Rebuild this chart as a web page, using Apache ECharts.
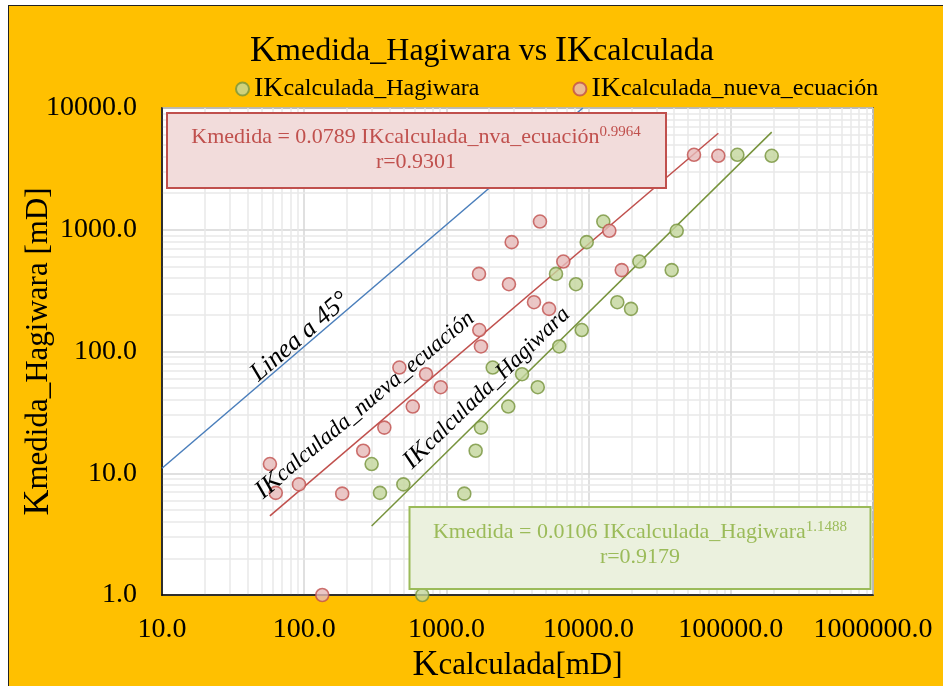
<!DOCTYPE html>
<html><head><meta charset="utf-8">
<script src="https://cdn.jsdelivr.net/npm/echarts@6/dist/echarts.min.js"></script>
<style>
html,body{margin:0;padding:0;background:#fff;width:943px;height:686px;overflow:hidden}
#frame{position:absolute;left:8px;top:5px;width:935px;height:681px;background:#FFC000;border-left:1.5px solid #222;border-top:1.5px solid #222;box-sizing:border-box}
#chart{position:absolute;left:0;top:0;width:943px;height:686px}
</style></head><body>
<div id="frame"></div><div id="chart"></div>
<script>
// Measured permeability (y) shared by both series
const kMedida = [4125, 4048, 1168, 980, 791, 548, 466, 434, 357, 254, 224, 150, 110, 73.8, 65.1, 50.9, 35.3, 23.7, 15.3, 11.9, 8.1, 6.9, 6.8, 1.0];
// Calculated permeability, new equation (x, red)
const kNuevaEcuacion = [55100, 81700, 4550, 13990, 2877, 6640, 17100, 1695, 2754, 4130, 5270, 1703, 1750, 467, 719, 912, 580, 366, 260, 57.4, 91.9, 63.1, 185, 134];
// Calculated permeability, Hagiwara (x, green)
const kHagiwara = [111200, 194000, 12690, 41660, 9700, 22750, 38400, 5900, 8150, 15920, 19870, 8950, 6220, 2117, 3404, 4390, 2723, 1750, 1606, 298, 498, 341, 1336, 677];
// Trend line end points (x, y)
const trendNueva = [[57.4, 4.47], [81700, 6200]];
const trendHagiwara = [[298, 3.69], [194000, 6340]];
const linea45 = [[10, 11], [9100, 10000]];
// Axis ranges
const xRange = [10, 1000000];
const yRange = [1, 10000];

const SERIF = "'Liberation Serif','Times New Roman',serif";
const pairs = (xs, ys) => xs.map((x, i) => [x, ys[i]]);

// minor log grid (2..9 per decade)
function minorVals(lo, hi) {
  const out = [];
  for (let d = lo; d < hi; d *= 10) for (let m = 2; m <= 9; m++) out.push(d * m);
  return out;
}
const minorLines = minorVals(xRange[0], xRange[1]).map(v => ({ xAxis: v }))
  .concat(minorVals(yRange[0], yRange[1]).map(v => ({ yAxis: v })));

const chart = echarts.init(document.getElementById('chart'), null, { renderer: 'canvas' });
const fmt = v => Number(v).toFixed(1);

chart.setOption({
  backgroundColor: 'transparent',
  animation: false,
  grid: {
    left: 162, top: 108, right: 70, bottom: 91,
    show: true, backgroundColor: '#fff', borderColor: '#404040', borderWidth: 1.5,
    outerBoundsMode: 'none'
  },
  legend: {
    data: ['IKcalculada_Hagiwara', 'IKcalculada_nueva_ecuación'],
    left: 230, top: 70, itemWidth: 13, itemHeight: 13, itemGap: 93,
    icon: 'circle',
    formatter: n => '{b|IK}{a|' + n.slice(2) + '}',
    textStyle: {
      rich: {
        b: { fontSize: 28, fontFamily: SERIF, color: '#000' },
        a: { fontSize: 24, fontFamily: SERIF, color: '#000' }
      }
    }
  },
  xAxis: {
    type: 'log', logBase: 10, min: xRange[0], max: xRange[1],
    axisLine: { show: true, lineStyle: { color: '#000', width: 1.5 } },
    axisTick: { show: false },
    axisLabel: { formatter: fmt, fontSize: 28, fontFamily: SERIF, color: '#000', margin: 21, showMinLabel: true, showMaxLabel: true },
    splitLine: { show: true, lineStyle: { color: '#d6d6d6', width: 1.5 } },
    name: '{k|K}{r|calculada[mD]}', nameLocation: 'middle', nameGap: 53, nameMoveOverlap: false,
    nameTextStyle: { rich: { k: { fontSize: 36, fontFamily: SERIF, color: '#000' }, r: { fontSize: 31, fontFamily: SERIF, color: '#000' } } }
  },
  yAxis: {
    type: 'log', logBase: 10, min: yRange[0], max: yRange[1],
    axisLine: { show: true, lineStyle: { color: '#000', width: 1.5 } },
    axisTick: { show: false },
    axisLabel: { formatter: fmt, fontSize: 28, fontFamily: SERIF, color: '#000', margin: 25, showMinLabel: true, showMaxLabel: true },
    splitLine: { show: true, lineStyle: { color: '#d6d6d6', width: 1.5 } },
    name: '{k|K}{r|medida_Hagiwara [mD]}', nameLocation: 'middle', nameGap: 105, nameRotate: 90, nameMoveOverlap: false,
    nameTextStyle: { rich: { k: { fontSize: 36, fontFamily: SERIF, color: '#000' }, r: { fontSize: 31, fontFamily: SERIF, color: '#000' } } }
  },
  series: [
    {
      name: 'minorGrid', type: 'line', data: [], z: 0, silent: true,
      markLine: {
        z: 0, silent: true, symbol: ['none', 'none'], label: { show: false },
        lineStyle: { type: 'solid', color: '#e8e8e8', width: 1.5 },
        emphasis: { disabled: true },
        data: minorLines
      }
    },
    {
      name: 'Linea a 45°', type: 'line', data: linea45, showSymbol: false, z: 6, silent: true,
      lineStyle: { color: '#4a7ebb', width: 1.5 }
    },
    {
      name: 'trendNueva', type: 'line', data: trendNueva, showSymbol: false, z: 6, silent: true,
      lineStyle: { color: '#c0504d', width: 1.5 }
    },
    {
      name: 'trendHagiwara', type: 'line', data: trendHagiwara, showSymbol: false, z: 6, silent: true,
      lineStyle: { color: '#77933c', width: 1.5 }
    },
    {
      name: 'IKcalculada_Hagiwara', type: 'scatter', data: pairs(kHagiwara, kMedida), z: 8,
      symbol: 'circle', symbolSize: 13, clip: false,
      itemStyle: { color: '#c3d69b', borderColor: '#77933c', borderWidth: 1.6 }
    },
    {
      name: 'IKcalculada_nueva_ecuación', type: 'scatter', data: pairs(kNuevaEcuacion, kMedida), z: 8,
      symbol: 'circle', symbolSize: 13, clip: false,
      itemStyle: { color: '#e6b9b8', borderColor: '#c0504d', borderWidth: 1.6 }
    }
  ],
  graphic: [
    {
      type: 'text', x: 482, y: 52, z: 100,
      style: {
        text: '{k|K}{t|medida_Hagiwara vs }{k|IK}{t|calculada}',
        align: 'center', verticalAlign: 'middle',
        rich: { k: { fontSize: 36, fontFamily: SERIF, fill: '#000' }, t: { fontSize: 32, fontFamily: SERIF, fill: '#000' } }
      }
    },
    {
      type: 'rect', z: 100,
      shape: { x: 167, y: 113, width: 499, height: 75 },
      style: { fill: '#f2dcdb', stroke: '#c0504d', lineWidth: 2 }
    },
    {
      type: 'text', x: 416, y: 150, z: 101,
      style: {
        text: '{m|Kmedida = 0.0789 IKcalculada_nva_ecuación}{s|0.9964}\n{m|r=0.9301}',
        align: 'center', verticalAlign: 'middle',
        rich: {
          m: { fontSize: 22, lineHeight: 25, fontFamily: SERIF, fill: '#c0504d' },
          s: { fontSize: 15, lineHeight: 25, fontFamily: SERIF, fill: '#c0504d', verticalAlign: 'top' }
        }
      }
    },
    {
      type: 'rect', z: 100,
      shape: { x: 409.5, y: 507, width: 461, height: 82 },
      style: { fill: '#ebf1de', stroke: '#9bbb59', lineWidth: 2 }
    },
    {
      type: 'text', x: 640, y: 545, z: 101,
      style: {
        text: '{m|Kmedida = 0.0106 IKcalculada_Hagiwara}{s|1.1488}\n{m|r=0.9179}',
        align: 'center', verticalAlign: 'middle',
        rich: {
          m: { fontSize: 22, lineHeight: 25, fontFamily: SERIF, fill: '#9bbb59' },
          s: { fontSize: 15, lineHeight: 25, fontFamily: SERIF, fill: '#9bbb59', verticalAlign: 'top' }
        }
      }
    },
    {
      type: 'text', x: 300, y: 337, rotation: 41 * Math.PI / 180, z: 100,
      style: { text: 'Linea a 45°', align: 'center', verticalAlign: 'middle', fontSize: 26, fontFamily: SERIF, fontStyle: 'italic', fill: '#000' }
    },
    {
      type: 'text', x: 365, y: 405, rotation: 40 * Math.PI / 180, z: 100,
      style: {
        text: '{b|IK}{a|calculada_nueva_ecuación}', align: 'center', verticalAlign: 'middle',
        rich: { b: { fontSize: 26, fontFamily: SERIF, fontStyle: 'italic', fill: '#000' }, a: { fontSize: 23, fontFamily: SERIF, fontStyle: 'italic', fill: '#000' } }
      }
    },
    {
      type: 'text', x: 487, y: 388, rotation: 44 * Math.PI / 180, z: 100,
      style: {
        text: '{b|IK}{a|calculada_Hagiwara}', align: 'center', verticalAlign: 'middle',
        rich: { b: { fontSize: 26, fontFamily: SERIF, fontStyle: 'italic', fill: '#000' }, a: { fontSize: 23, fontFamily: SERIF, fontStyle: 'italic', fill: '#000' } }
      }
    }
  ]
});
</script>
</body></html>
